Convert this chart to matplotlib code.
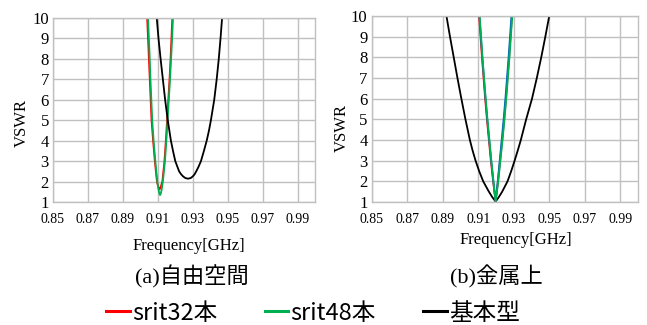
import matplotlib.pyplot as plt
from matplotlib.lines import Line2D

# (a) free space
a_red_f = [0.9039, 0.9044, 0.9049, 0.9054, 0.9059, 0.9064, 0.9073, 0.9083, 0.9095, 0.9101, 0.9106, 0.9110,
           0.9114, 0.9119, 0.9126, 0.9138, 0.9146, 0.9153, 0.9160, 0.9167, 0.9173, 0.9178, 0.9183]
a_red_v = [10, 9, 8, 7, 6, 5, 4, 3, 2, 1.8, 1.67, 1.62, 1.67, 1.8, 2, 3, 4, 5, 6, 7, 8, 9, 10]
a_green_f = [0.9044, 0.9049, 0.9054, 0.9058, 0.9063, 0.9068, 0.9076, 0.9086, 0.9097, 0.9104, 0.9109, 0.9113,
             0.9117, 0.9122, 0.9129, 0.9141, 0.9149, 0.9156, 0.9163, 0.9170, 0.9176, 0.9182, 0.9187]
a_green_v = [10, 9, 8, 7, 6, 5, 4, 3, 2, 1.6, 1.41, 1.34, 1.41, 1.6, 2, 3, 4, 5, 6, 7, 8, 9, 10]
a_black_f = [0.9094, 0.9104, 0.9116, 0.9129, 0.9142, 0.9157, 0.9175, 0.9187, 0.9200, 0.9222, 0.9233,
             0.9245, 0.9258, 0.9273, 0.9288, 0.9300, 0.9311, 0.9320, 0.9333, 0.9347, 0.9364, 0.9380,
             0.9393, 0.9404, 0.9423, 0.9437, 0.9449, 0.9459, 0.9468]
a_black_v = [10, 9, 8, 7, 6, 5, 4, 3.5, 3, 2.5, 2.36, 2.25, 2.17, 2.14, 2.17, 2.25, 2.36, 2.5, 2.72, 3,
             3.5, 4, 4.5, 5, 6, 7, 8, 9, 10]

# (b) on metal
b_red_f = [0.9105, 0.9113, 0.9121, 0.9130, 0.9139, 0.9149, 0.9160, 0.9171, 0.9184, 0.9198,
           0.9211, 0.9223, 0.9235, 0.9246, 0.9256, 0.9265, 0.9274, 0.9282, 0.9290]
b_red_v = [10, 9, 8, 7, 6, 5, 4, 3, 2, 1.02, 2, 3, 4, 5, 6, 7, 8, 9, 10]
b_blue_f = [0.9107, 0.9115, 0.9123, 0.9132, 0.9141, 0.9151, 0.9162, 0.9173, 0.9185, 0.9198,
            0.9210, 0.9221, 0.9232, 0.9243, 0.9253, 0.9262, 0.9271, 0.9279, 0.9287]
b_blue_v = b_red_v
b_green_f = [0.9108, 0.9116, 0.9124, 0.9133, 0.9142, 0.9152, 0.9163, 0.9174, 0.9186, 0.9198,
             0.9213, 0.9225, 0.9237, 0.9248, 0.9258, 0.9267, 0.9276, 0.9284, 0.9292]
b_green_v = b_red_v
b_black_f = [0.8921, 0.8941, 0.8962, 0.8983, 0.9005, 0.9028, 0.9053, 0.9068, 0.9085, 0.9105, 0.9128,
             0.9144, 0.9160, 0.9178, 0.9198, 0.9217, 0.9235, 0.9250, 0.9265, 0.9286, 0.9305, 0.9323,
             0.9340, 0.9355, 0.9370, 0.9403, 0.9430, 0.9455, 0.9478, 0.9500]
b_black_v = [10, 9, 8, 7, 6, 5, 4, 3.5, 3, 2.5, 2, 1.75, 1.5, 1.25, 1.02, 1.25, 1.5, 1.75, 2, 2.5, 3,
             3.5, 4, 4.5, 5, 6, 7, 8, 9, 10]

x_ticks = [0.85, 0.87, 0.89, 0.91, 0.93, 0.95, 0.97, 0.99]
y_ticks = [1, 2, 3, 4, 5, 6, 7, 8, 9, 10]
titles = ['(a)自由空間', '(b)金属上']
legend_labels = ['srit32本', 'srit48本', '基本型']

RED = '#ff0000'
GREEN = '#00b050'
BLUE = '#0070c0'
GRID = '#c0c0c0'
serif = ['Liberation Serif', 'Noto Sans CJK JP']

fig = plt.figure(figsize=(6.47, 3.25), dpi=100)
ax1 = fig.add_axes([0.0819, 0.3785, 0.405, 0.5661])
ax2 = fig.add_axes([0.5745, 0.3785, 0.4116, 0.5723])

ax1.plot(a_red_f, a_red_v, color=RED, lw=1.3)
ax1.plot(a_green_f, a_green_v, color=GREEN, lw=1.3)
ax1.plot(a_black_f, a_black_v, color='black', lw=1.3)

ax2.plot(b_black_f, b_black_v, color='black', lw=1.3)
ax2.plot(b_red_f, b_red_v, color=RED, lw=1.3)
ax2.plot(b_blue_f, b_blue_v, color=BLUE, lw=1.3)
ax2.plot(b_green_f, b_green_v, color=GREEN, lw=1.3)

for ax in (ax1, ax2):
    ax.set_xlim(0.85, 1.0)
    ax.set_ylim(1, 10)
    ax.set_xticks(x_ticks)
    ax.set_yticks(y_ticks)
    ax.set_xticklabels([f'{t:.2f}' for t in x_ticks], family=serif, fontsize=10)
    ax.set_yticklabels([str(t) for t in y_ticks], family=serif, fontsize=12)
    ax.tick_params(axis='x', length=0, pad=8)
    ax.tick_params(axis='y', length=0, pad=3)
    ax.grid(True, color=GRID, lw=1)
    ax.set_axisbelow(True)
    for s in ax.spines.values():
        s.set_color(GRID)
        s.set_linewidth(1)
    ax.set_ylabel('VSWR', family=serif, fontsize=12)
    ax.set_xlabel('Frequency[GHz]', family=serif, fontsize=12)

ax1.yaxis.set_label_coords(-0.088, 0.43)
ax2.yaxis.set_label_coords(-0.081, 0.40)
ax1.xaxis.set_label_coords(0.519, -0.196)
ax2.xaxis.set_label_coords(0.542, -0.161)

fig.text(192 / 647, 1 - 277 / 325, titles[0], family=serif, fontsize=16, ha='center', va='center')
fig.text(496 / 647, 1 - 277 / 325, titles[1], family=serif, fontsize=16, ha='center', va='center')

handles = [Line2D([], [], color=RED, lw=2.2),
           Line2D([], [], color=GREEN, lw=2.2),
           Line2D([], [], color='black', lw=2.2)]
fig.legend(handles, legend_labels, loc='center', bbox_to_anchor=(313 / 647, 1 - 313 / 325),
           ncol=3, frameon=False, prop={'family': ['Noto Sans CJK JP', 'DejaVu Sans'], 'size': 17},
           handlelength=1.0, handletextpad=0.1, columnspacing=2.0, borderpad=0, borderaxespad=0)

fig.savefig('out.png', dpi=100)
